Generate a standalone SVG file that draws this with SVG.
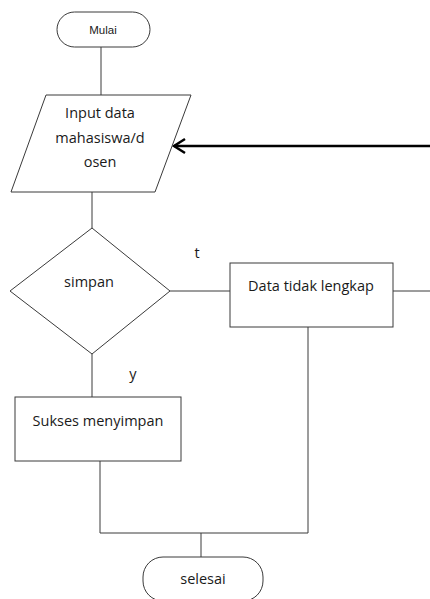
<svg xmlns="http://www.w3.org/2000/svg" width="430" height="599" viewBox="0 0 430 599">
<style>
.s{fill:#fff;stroke:#3a3a3a;stroke-width:1}
.c{fill:none;stroke:#3a3a3a;stroke-width:1}
.t{font-family:"Open Sans","Liberation Sans",sans-serif;font-size:14.5px;fill:#1a1a1a;text-anchor:middle}
.m{font-family:"Liberation Sans",sans-serif;font-size:11.5px;fill:#1a1a1a;text-anchor:middle}
</style>
<rect width="430" height="599" fill="#fff"/>
<g id="connectors">
<line class="c" x1="101" y1="47" x2="101" y2="95"/>
<line class="c" x1="92" y1="192" x2="92" y2="228"/>
<line class="c" x1="170" y1="291" x2="230" y2="291"/>
<line class="c" x1="393" y1="291" x2="430" y2="291"/>
<line class="c" x1="92" y1="354" x2="92" y2="397"/>
<polyline class="c" points="100,461 100,533 308,533 308,327"/>
<line class="c" x1="201" y1="533" x2="201" y2="557"/>
<line x1="430" y1="146" x2="174" y2="146" stroke="#000" stroke-width="2.5"/>
<polyline points="185,139 174,146 185,153" fill="none" stroke="#000" stroke-width="2.5"/>
</g>
<g id="mulai">
<rect class="s" x="57" y="12" width="93" height="35" rx="17.5"/>
<text class="m" x="103" y="34">Mulai</text>
</g>
<g id="input">
<polygon class="s" points="46,95 191,95 155,192 11,192"/>
<text class="t" x="100" y="118">Input data</text>
<text class="t" x="100" y="143">mahasiswa/d</text>
<text class="t" x="100" y="167">osen</text>
</g>
<g id="simpan">
<polygon class="s" points="92,228 170,291 92,354 10,291"/>
<text class="t" x="89" y="287">simpan</text>
<text class="t" x="197" y="258">t</text>
</g>
<g id="tidaklengkap">
<rect class="s" x="230" y="263" width="163" height="64"/>
<text class="t" x="311" y="291">Data tidak lengkap</text>
</g>
<g id="sukses">
<text class="t" x="133" y="379">y</text>
<rect class="s" x="15" y="397" width="166" height="64"/>
<text class="t" x="98" y="426">Sukses menyimpan</text>
</g>
<g id="selesai">
<rect class="s" x="143" y="557" width="120" height="44" rx="20"/>
<text class="t" x="203" y="584">selesai</text>
</g>
</svg>
